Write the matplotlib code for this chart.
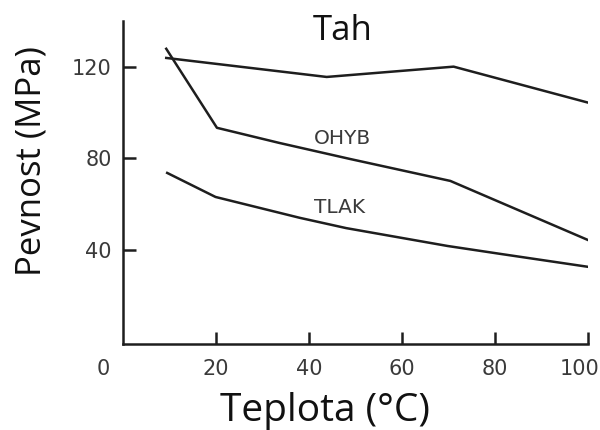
import numpy as np
import matplotlib
matplotlib.use('Agg')
import matplotlib.pyplot as plt

# ----------------------------------------------------------------------
# Strength vs temperature, three loading modes
# ----------------------------------------------------------------------

tah_t = [9.3, 43.8, 71.1, 100.0]
tah_p = [123.9, 115.6, 120.1, 104.4]

ohyb_t = [9.3, 20.2, 33.6, 48.8, 70.4, 100.0]
ohyb_p = [127.9, 93.4, 86.8, 79.8, 70.2, 44.4]

tlak_t = [9.5, 19.9, 38.0, 48.0, 69.8, 81.3, 100.0]
tlak_p = [73.7, 63.2, 54.1, 49.6, 41.8, 38.3, 32.7]

xticks = [20, 40, 60, 80, 100]
xlabels = ['20', '40', '60', '80', '']
yticks = [40, 80, 120]

line_col = '#1e1e1e'
tick_col = '#3a3a3a'

fig = plt.figure(figsize=(6.0, 4.3), dpi=100)
ax = fig.add_axes([0.205, 0.2, 0.775, 0.751])

ax.plot(tah_t, tah_p, color=line_col, lw=1.8)
ax.plot(ohyb_t, ohyb_p, color=line_col, lw=1.8)
ax.plot(tlak_t, tlak_p, color=line_col, lw=1.8)

ax.set_xlim(0, 100)
ax.set_ylim(-1, 140)

for s in ['top', 'right']:
    ax.spines[s].set_visible(False)
for s in ['left', 'bottom']:
    ax.spines[s].set_linewidth(1.8)
    ax.spines[s].set_color(line_col)

ax.set_xticks(xticks)
ax.set_xticklabels(xlabels)
ax.set_yticks(yticks)
ax.tick_params(axis='both', direction='in', length=9, width=1.8,
               color=line_col, labelcolor=tick_col, labelsize=15)
ax.tick_params(axis='x', pad=11)
ax.tick_params(axis='y', pad=8)

# corner labels: "0" left of the origin, "100" pulled in from the edge
ax.annotate('0', xy=(0, 0), xycoords='axes fraction',
            xytext=(-20, -25), textcoords='offset pixels',
            ha='center', va='center', fontsize=15, color=tick_col)
ax.annotate('100', xy=(1, 0), xycoords='axes fraction',
            xytext=(-8, -25), textcoords='offset pixels',
            ha='center', va='center', fontsize=15, color=tick_col)

ax.text(41, 88.6, 'OHYB', fontsize=14.5, color=tick_col, va='center')
ax.text(41, 58.4, 'TLAK', fontsize=14.5, color=tick_col, va='center')

ax.text(47.3, 135.5, 'Tah', fontsize=25, family='Open Sans',
        color='#111111', ha='center', va='center')

ax.set_xlabel('Teplota (°C)', fontsize=28, family='Open Sans',
              color='#111111')
ax.set_ylabel('Pevnost (MPa)', fontsize=25, family='Open Sans',
              color='#111111')
ax.xaxis.set_label_coords(0.434, -0.15)
ax.yaxis.set_label_coords(-0.16, 0.568)

fig.savefig('out.png', dpi=100, facecolor='white')
